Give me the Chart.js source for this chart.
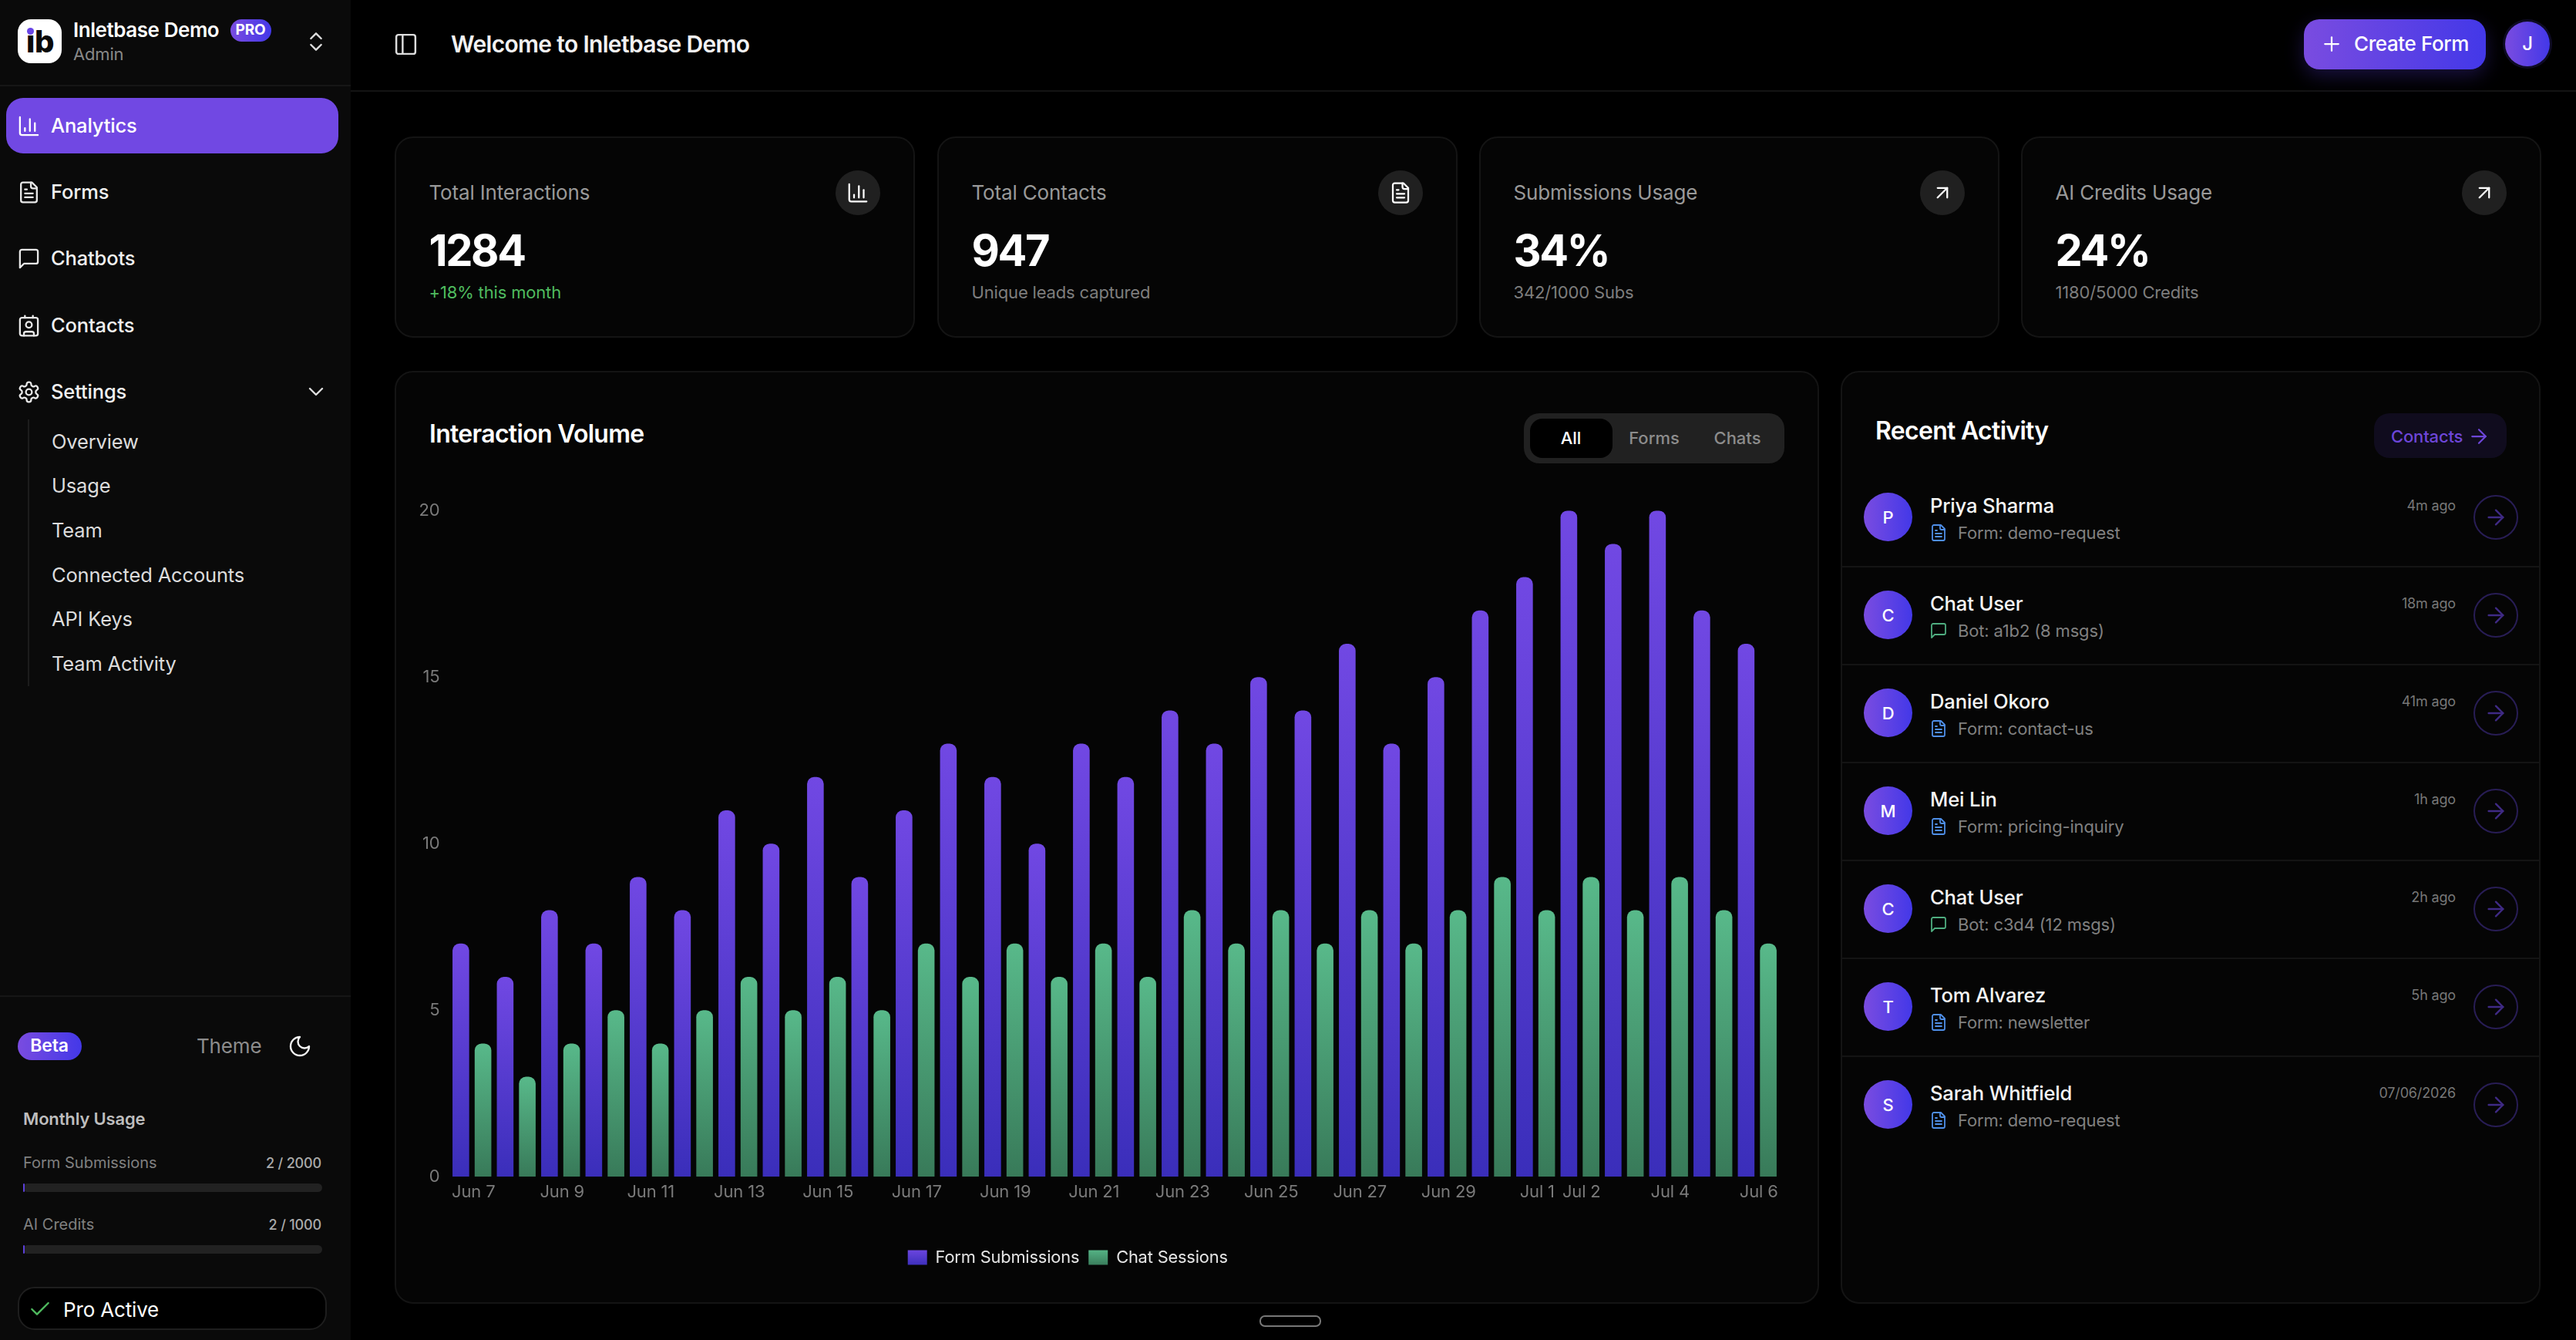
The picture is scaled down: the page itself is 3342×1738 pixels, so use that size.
<!DOCTYPE html>
<html>
<head>
<meta charset="utf-8">
<title>Inletbase Demo</title>
<script src="https://cdnjs.cloudflare.com/ajax/libs/Chart.js/4.4.1/chart.umd.min.js"></script>
<style>
  html, body { margin: 0; padding: 0; background: #000; width: 3342px; height: 1738px; overflow: hidden; }
  body { position: relative; font-family: Inter, sans-serif; color: #fff; letter-spacing: -0.01em; }
  #ui div, #ui span.x, #ui svg { position: absolute; }
  .box { box-sizing: border-box; }
  .card { box-sizing: border-box; background: #050505; border: 2px solid #141414; border-radius: 24px; }
  .grad { background: linear-gradient(90deg, #7a4ce0, #4338e8); }
  .t { white-space: nowrap; transform: translateY(-50%); line-height: 1.2; }
  .tc { white-space: nowrap; transform: translate(-50%, -50%); line-height: 1.2; }
  #chart { position: absolute; left: 462px; top: 636px; }
</style>
</head>
<body>
<div id="ui"></div>
<canvas id="chart" width="1868" height="1016"></canvas>
<script>
// Chart data
const categories = ['Jun 7', 'Jun 8', 'Jun 9', 'Jun 10', 'Jun 11', 'Jun 12', 'Jun 13', 'Jun 14', 'Jun 15', 'Jun 16',
  'Jun 17', 'Jun 18', 'Jun 19', 'Jun 20', 'Jun 21', 'Jun 22', 'Jun 23', 'Jun 24', 'Jun 25', 'Jun 26',
  'Jun 27', 'Jun 28', 'Jun 29', 'Jun 30', 'Jul 1', 'Jul 2', 'Jul 3', 'Jul 4', 'Jul 5', 'Jul 6'];
const formSubmissions = [7, 6, 8, 7, 9, 8, 11, 10, 12, 9, 11, 13, 12, 10, 13, 12, 14, 13, 15, 14, 16, 13, 15, 17, 18, 20, 19, 20, 17, 16];
const chatSessions = [4, 3, 4, 5, 4, 5, 6, 5, 6, 5, 7, 6, 7, 6, 7, 6, 8, 7, 8, 7, 8, 7, 8, 9, 8, 9, 8, 9, 8, 7];
const xTickLabels = ['Jun 7', 'Jun 9', 'Jun 11', 'Jun 13', 'Jun 15', 'Jun 17', 'Jun 19', 'Jun 21', 'Jun 23', 'Jun 25',
  'Jun 27', 'Jun 29', 'Jul 1', 'Jul 2', 'Jul 4', 'Jul 6'];

// Page text
const statTitles = ['Total Interactions', 'Total Contacts', 'Submissions Usage', 'AI Credits Usage'];
const statValues = ['1284', '947', '34%', '24%'];
const statNotes = ['+18% this month', 'Unique leads captured', '342/1000 Subs', '1180/5000 Credits'];
const activityNames = ['Priya Sharma', 'Chat User', 'Daniel Okoro', 'Mei Lin', 'Chat User', 'Tom Alvarez', 'Sarah Whitfield'];
const activityNotes = ['Form: demo-request', 'Bot: a1b2 (8 msgs)', 'Form: contact-us', 'Form: pricing-inquiry', 'Bot: c3d4 (12 msgs)', 'Form: newsletter', 'Form: demo-request'];
const activityTimes = ['4m ago', '18m ago', '41m ago', '1h ago', '2h ago', '5h ago', '07/06/2026'];

const icons = {
  bars: '<path d="M3 3v16a2 2 0 0 0 2 2h16"/><path d="M18 17V9"/><path d="M13 17V5"/><path d="M8 17v-3"/>',
  file: '<path d="M15 2H6a2 2 0 0 0-2 2v16a2 2 0 0 0 2 2h12a2 2 0 0 0 2-2V7Z"/><path d="M14 2v4a2 2 0 0 0 2 2h4"/><path d="M10 9H8"/><path d="M16 13H8"/><path d="M16 17H8"/>',
  chat: '<path d="M21 15a2 2 0 0 1-2 2H7l-4 4V5a2 2 0 0 1 2-2h14a2 2 0 0 1 2 2z"/>',
  contact: '<path d="M16 2v2"/><path d="M7 22v-2a2 2 0 0 1 2-2h6a2 2 0 0 1 2 2v2"/><path d="M8 2v2"/><circle cx="12" cy="11" r="3"/><rect x="3" y="4" width="18" height="18" rx="2"/>',
  gear: '<path d="M12.22 2h-.44a2 2 0 0 0-2 2v.18a2 2 0 0 1-1 1.73l-.43.25a2 2 0 0 1-2 0l-.15-.08a2 2 0 0 0-2.73.73l-.22.38a2 2 0 0 0 .73 2.73l.15.1a2 2 0 0 1 1 1.72v.51a2 2 0 0 1-1 1.74l-.15.09a2 2 0 0 0-.73 2.73l.22.38a2 2 0 0 0 2.73.73l.15-.08a2 2 0 0 1 2 0l.43.25a2 2 0 0 1 1 1.73V20a2 2 0 0 0 2 2h.44a2 2 0 0 0 2-2v-.18a2 2 0 0 1 1-1.73l.43-.25a2 2 0 0 1 2 0l.15.08a2 2 0 0 0 2.73-.73l.22-.39a2 2 0 0 0-.73-2.73l-.15-.08a2 2 0 0 1-1-1.74v-.5a2 2 0 0 1 1-1.74l.15-.09a2 2 0 0 0 .73-2.73l-.22-.38a2 2 0 0 0-2.73-.73l-.15.08a2 2 0 0 1-2 0l-.43-.25a2 2 0 0 1-1-1.73V4a2 2 0 0 0-2-2z"/><circle cx="12" cy="12" r="3"/>',
  updown: '<path d="m7 15 5 5 5-5"/><path d="m7 9 5-5 5 5"/>',
  down: '<path d="m6 9 6 6 6-6"/>',
  panel: '<rect x="3" y="3" width="18" height="18" rx="2"/><path d="M9 3v18"/>',
  plus: '<path d="M5 12h14"/><path d="M12 5v14"/>',
  upright: '<path d="M7 7h10v10"/><path d="M7 17 17 7"/>',
  right: '<path d="M5 12h14"/><path d="m12 5 7 7-7 7"/>',
  check: '<path d="M20 6 9 17l-5-5"/>',
  moon: '<path d="M12 3a6 6 0 0 0 9 9 9 9 0 1 1-9-9Z"/>'
};

// Small helpers for the absolutely placed page parts
const ic = (name, cx, cy, size, color, sw = 1.8) =>
  `<svg style="left:${cx - size / 2}px;top:${cy - size / 2}px" width="${size}" height="${size}" viewBox="0 0 24 24" fill="none" stroke="${color}" stroke-width="${sw}" stroke-linecap="round" stroke-linejoin="round">${icons[name]}</svg>`;
const txt = (s, x, y, size, color, weight = 400, extra = '') =>
  `<div class="t" style="left:${x}px;top:${y}px;font-size:${size}px;color:${color};font-weight:${weight};${extra}">${s}</div>`;
const txtR = (s, right, y, size, color, weight = 400, extra = '') =>
  `<div class="t" style="right:${3342 - right}px;top:${y}px;font-size:${size}px;color:${color};font-weight:${weight};${extra}">${s}</div>`;
const txtC = (s, x, y, size, color, weight = 400, extra = '') =>
  `<div class="tc" style="left:${x}px;top:${y}px;font-size:${size}px;color:${color};font-weight:${weight};${extra}">${s}</div>`;
const rect = (x, y, w, h, style, cls = '') =>
  `<div class="box ${cls}" style="left:${x}px;top:${y}px;width:${w}px;height:${h}px;${style}"></div>`;

let html = '';

// Sidebar
html += rect(0, 0, 455, 1738, 'background:#0a0a0a');
html += rect(0, 110, 455, 2, 'background:#161616');
html += rect(23, 25, 57, 57, 'background:#fff;border-radius:17px');
html += txtC('ib', 52, 54, 40, '#0a0a0a', 800, 'letter-spacing:-0.5px');
html += rect(34.5, 35.5, 9, 9, 'background:#6a45e6;border-radius:50%');
html += txt('Inletbase Demo', 95, 39, 26, '#fff', 600, 'letter-spacing:-0.45px');
html += txt('Admin', 95, 70, 22, '#888');
html += rect(299, 25, 53, 29, 'border-radius:15px', 'grad');
html += txtC('PRO', 325, 39, 19, '#fff', 700);
html += ic('updown', 410, 54, 32, '#ddd');

html += rect(8, 127, 431, 72, 'background:#7148e3;border-radius:22px');
const navItems = ['Analytics', 'Forms', 'Chatbots', 'Contacts', 'Settings'];
const navIcons = ['bars', 'file', 'chat', 'contact', 'gear'];
const navY = [163, 249, 335, 422, 508];
navItems.forEach((name, i) => {
  html += ic(navIcons[i], 37, navY[i], 31, i === 0 ? '#fff' : '#e8e8e8');
  html += txt(name, 66, navY[i], 25.5, '#f0f0f0', 500, i === 0 ? 'color:#fff' : '');
});
html += ic('down', 410, 508, 32, '#ddd');
html += rect(36, 544, 2, 346, 'background:#1c1c1c');
const subItems = ['Overview', 'Usage', 'Team', 'Connected Accounts', 'API Keys', 'Team Activity'];
const subY = [573, 630, 688, 746, 803, 861];
subItems.forEach((name, i) => { html += txt(name, 67, subY[i], 25.5, '#dcdcdc'); });

html += rect(0, 1291, 455, 2, 'background:#161616');
html += rect(23, 1339, 83, 36, 'border-radius:18px', 'grad');
html += txtC('Beta', 64, 1357, 23, '#fff', 600);
html += txt('Theme', 255, 1357, 26, '#8c8c8c');
html += ic('moon', 389, 1357, 32, '#f5f5f5');
html += txt('Monthly Usage', 30, 1451, 22, '#bdbdbd', 600);
html += txt('Form Submissions', 30, 1508, 20, '#808080', 400, 'letter-spacing:0');
html += txtR('2 / 2000', 417, 1509, 18, '#aaa', 500);
html += rect(30, 1535, 388, 11, 'background:#222;border-radius:6px');
html += rect(30, 1535, 1.5, 11, 'background:#5b3fd8;border-radius:2px');
html += txt('AI Credits', 30, 1588, 20, '#808080', 400, 'letter-spacing:0');
html += txtR('2 / 1000', 417, 1589, 18, '#aaa', 500);
html += rect(30, 1615, 388, 11, 'background:#222;border-radius:6px');
html += rect(30, 1615, 1.5, 11, 'background:#5b3fd8;border-radius:2px');
html += rect(23, 1669, 401, 56, 'background:#000;border:2px solid #1e1e1e;border-radius:22px');
html += ic('check', 52, 1698, 32, '#4fbb5f');
html += txt('Pro Active', 82, 1699, 26, '#fff');

// Top bar
html += rect(455, 117, 2887, 2, 'background:#141414');
html += ic('panel', 526, 57, 33, '#ddd');
html += txt('Welcome to Inletbase Demo', 585, 57, 30, '#f2f2f2', 600, 'letter-spacing:-0.68px');
html += rect(2989, 25, 236, 65, 'border-radius:20px;box-shadow:0 8px 24px rgba(90,60,230,.28)', 'grad');
html += ic('plus', 3025, 57, 30, '#fff');
html += txt('Create Form', 3054, 57, 26, '#fff', 500, 'letter-spacing:-0.4px');
html += rect(3247, 25, 64, 64, 'background:#0e0b24;border-radius:50%');
html += rect(3250, 28, 58, 58, 'border-radius:50%', 'grad');
html += txtC('J', 3279, 57, 24, '#fff', 500);

// Stat cards
const statX = [512, 1216, 1919, 2622];
statTitles.forEach((title, i) => {
  const x = statX[i];
  html += rect(x, 177, 675, 261, '', 'card');
  html += txt(title, x + 44.5, 250, 26, '#999');
  html += txt(statValues[i], x + 44.5, 326, 56, '#fff', 700, 'letter-spacing:-2.4px');
  html += txt(statNotes[i], x + 44.5, 379, 22, i === 0 ? '#4fbb5f' : '#7d7d7d');
  html += rect(x + 572, 221, 58, 58, 'background:#202020;border-radius:50%');
  html += ic(i < 1 ? 'bars' : i === 1 ? 'file' : 'upright', x + 601, 250, 30, '#fff');
});

// Chart card
html += rect(512, 481, 1848, 1210, '', 'card');
html += txt('Interaction Volume', 557, 563, 32, '#fff', 600, 'letter-spacing:-0.7px');
html += rect(1977, 536, 338, 65, 'background:#212121;border-radius:20px');
html += rect(1985, 543, 107, 51, 'background:#000;border-radius:16px');
html += txtC('All', 2038, 568, 22, '#fff', 500, 'letter-spacing:0');
html += txtC('Forms', 2146, 568, 22, '#8c8c8c', 500, 'letter-spacing:0');
html += txtC('Chats', 2254, 568, 22, '#8c8c8c', 500, 'letter-spacing:0');

// Activity card
html += rect(2388, 481, 908, 1210, '', 'card');
html += txt('Recent Activity', 2433, 559, 32, '#fff', 600, 'letter-spacing:-0.7px');
html += rect(3080, 536, 172, 58, 'background:#100c1e;border-radius:20px');
html += txt('Contacts', 3102, 566, 22, '#6d46d8', 500);
html += ic('right', 3216, 566, 30, '#6d46d8');
activityNames.forEach((name, i) => {
  const y = 671 + i * 127;
  const isChat = activityNotes[i].startsWith('Bot');
  html += rect(2418, y - 32, 63, 63, 'border-radius:50%', 'grad');
  html += txtC(name[0], 2449.5, y, 22, '#fff', 500);
  html += txt(name, 2504, y - 15, 25.6, '#f5f5f5', 500);
  html += ic(isChat ? 'chat' : 'file', 2515, y + 20, 24, isChat ? '#4fae80' : '#4f8fe8');
  html += txt(activityNotes[i], 2540, y + 20, 22, '#808080');
  html += txtR(activityTimes[i], 3186, y - 15, 18, '#777');
  html += rect(3209, y - 29, 58, 58, 'border:2px solid #281d55;border-radius:50%');
  html += ic('right', 3238, y, 32, '#3f2a85');
  if (i < 6) html += rect(2388, y + 63, 908, 2, 'background:#141414');
});

// Resize handle under the cards
html += rect(1634, 1706, 80, 15, 'border:2px solid #777;border-radius:7px;background:#000');

document.getElementById('ui').innerHTML = html;

// Each bar gets its own top to bottom gradient
function barGradient(context, top, bottom) {
  const chart = context.chart;
  const yScale = chart.scales.y;
  if (!yScale || context.raw === undefined) return top;
  const gradient = chart.ctx.createLinearGradient(0, yScale.getPixelForValue(context.raw), 0, yScale.getPixelForValue(0));
  gradient.addColorStop(0, top);
  gradient.addColorStop(1, bottom);
  return gradient;
}

const axisFont = { family: 'Inter', size: 22 };

new Chart(document.getElementById('chart'), {
  type: 'bar',
  data: {
    labels: categories,
    datasets: [
      {
        label: 'Form Submissions',
        data: formSubmissions,
        backgroundColor: (c) => barGradient(c, '#7148e3', '#3a2eba'),
        borderRadius: { topLeft: 9, topRight: 9 },
        borderSkipped: false,
        categoryPercentage: 1,
        barPercentage: 0.752
      },
      {
        label: 'Chat Sessions',
        data: chatSessions,
        backgroundColor: (c) => barGradient(c, '#58b98a', '#387a59'),
        borderRadius: { topLeft: 9, topRight: 9 },
        borderSkipped: false,
        categoryPercentage: 1,
        barPercentage: 0.752
      }
    ]
  },
  options: {
    responsive: false,
    animation: false,
    layout: { padding: { top: 22, right: 21.5 } },
    scales: {
      x: {
        grid: { display: false, drawTicks: false },
        border: { display: false },
        afterFit: (scale) => { scale.height = 82; },
        ticks: {
          autoSkip: false,
          maxRotation: 0,
          padding: 7,
          labelOffset: 2,
          color: '#7a7a7a',
          font: axisFont,
          callback: function (value) {
            const label = this.getLabelForValue(value);
            return xTickLabels.includes(label) ? label : '';
          }
        }
      },
      y: {
        min: 0,
        max: 20,
        grid: { display: false, drawTicks: false },
        border: { display: false },
        afterFit: (scale) => { scale.width = 121.5; },
        ticks: { stepSize: 5, padding: 13, color: '#7a7a7a', font: axisFont }
      }
    },
    plugins: {
      tooltip: { enabled: false },
      legend: {
        position: 'bottom',
        labels: {
          boxWidth: 25,
          boxHeight: 19,
          padding: 12,
          color: '#e5e5e5',
          font: { family: 'Inter', size: 21.8 },
          generateLabels: (chart) => {
            const stops = [['#7148e3', '#3a2eba'], ['#58b98a', '#387a59']];
            return chart.data.datasets.map((ds, i) => {
              const fill = chart.ctx.createLinearGradient(0, 1619 - 636, 0, 1642 - 636);
              fill.addColorStop(0, stops[i][0]);
              fill.addColorStop(1, stops[i][1]);
              return { text: ds.label, fillStyle: fill, strokeStyle: 'transparent', lineWidth: 0, fontColor: '#e5e5e5', datasetIndex: i };
            });
          }
        }
      }
    }
  }
});
</script>
</body>
</html>
